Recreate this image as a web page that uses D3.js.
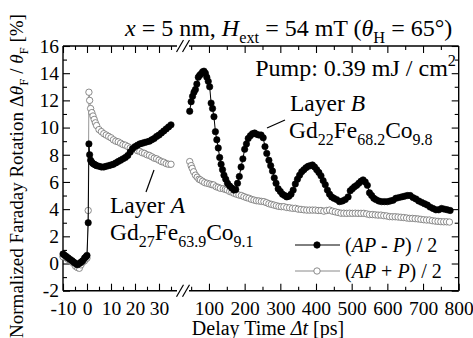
<!DOCTYPE html>
<html><head><meta charset="utf-8">
<script src="https://cdn.jsdelivr.net/npm/d3@7"></script>
<style>
body{margin:0;background:#fff}
svg{display:block}
svg text{font-family:"Liberation Serif","Times New Roman",serif !important;fill:#000}
</style>
</head><body>
<svg id="c" width="473" height="338"></svg>
<script>
// ---------- data ----------
const yTicks = [-2,0,2,4,6,8,10,12,14,16];
const yMinor = [-1,1,3,5,7,9,11,13,15];
const xTicksLeft = [-10,0,10,20,30];
const xMinorLeft = [-5,5,15,25,35];
const xTicksRight = [100,200,300,400,500,600,700,800];
const xMinorRight = [50,150,250,350,450,550,650,750];

const leftTime = [-10,-9.3,-8.5,-7.8,-7,-6.2,-5.5,-4.8,-4,-3.2,-2.5,-1.8,-1,-0.4,0,
  0.5,0.8,1.1,1.5,2,2.5,3,3.5,4,
  5,6,7,8,9,10,11,12,13,14,15,16,17,18,19,20,21,22,23,24,25,26,27,28,29,30,31,32,33,34,35];
const leftAPminusP = [0.7,0.6,0.5,0.4,0.3,0.2,0.1,0.0,-0.1,0.0,0.1,0.2,0.4,0.5,0.6,
  3.0,8.8,8.0,7.6,7.45,7.35,7.3,7.25,7.2,
  7.15,7.1,7.1,7.15,7.2,7.25,7.3,7.4,7.5,7.6,7.7,7.8,7.95,8.2,8.45,8.6,8.7,8.8,8.85,8.9,8.95,9.0,9.1,9.2,9.35,9.45,9.6,9.75,9.9,10.05,10.2];
const leftAPplusP = [0.5,0.6,0.4,0.3,0.2,0.1,0.0,-0.2,-0.3,-0.35,-0.1,0.1,0.2,0.35,0.4,
  3.9,12.6,12.0,11.4,11.1,10.85,10.6,10.35,10.15,
  9.85,9.7,9.55,9.45,9.35,9.25,9.1,9.0,8.95,8.85,8.75,8.7,8.6,8.5,8.45,8.4,8.3,8.25,8.15,8.1,8.0,7.95,7.85,7.75,7.7,7.6,7.5,7.45,7.35,7.3,7.3];

const rightTimeFilled = [46,50,54,58,62,66,70,74,78,82,86,90,94,98,102,106,110,114,118,122,126,130,134,138,142,147,152,158,164,170,175,180,185,190,195,200,205,210,216,222,228,234,240,246,252,257,262,268,273,278,283,288,294,300,306,312,318,324,330,336,342,348,354,360,366,372,378,384,390,396,402,408,414,420,426,432,438,444,450,458,466,474,482,490,496,502,508,514,520,526,532,538,544,550,556,562,568,576,584,592,600,608,616,624,632,640,648,656,664,672,680,688,696,704,712,720,728,736,744,752,760,768,776];
const rightAPminusP = [11.2,11.9,12.3,12.6,12.8,13.2,13.7,13.85,13.95,14.1,14.15,14.0,13.7,13.4,13.0,11.8,11.4,10.8,9.7,9.1,8.5,7.8,7.3,6.9,6.5,6.2,5.9,5.7,5.55,5.4,5.45,5.9,6.4,7.1,7.7,8.4,8.8,9.2,9.4,9.55,9.6,9.5,9.45,9.45,9.25,8.6,8.1,7.6,7.2,6.8,6.3,5.9,5.5,5.3,5.1,5.0,4.9,4.95,5.1,5.4,5.85,6.2,6.5,6.75,6.9,7.05,7.15,7.2,7.25,7.1,6.9,6.7,6.45,6.1,5.8,5.4,5.1,4.9,4.8,4.7,4.55,4.6,4.7,4.9,5.35,5.5,5.65,5.75,5.9,6.05,6.15,6.0,5.75,5.2,5.0,4.8,4.7,4.6,4.55,4.55,4.55,4.6,4.65,4.8,4.85,4.9,4.95,5.0,5.0,4.85,4.75,4.6,4.5,4.4,4.3,4.15,4.05,3.95,3.95,4.05,4.0,3.95,3.9];

const rightTimeOpen = [46,50,53,57,62,67,72,76,82,88,95,102,108,113,120,126,132,140,146,151,158,164,170,177,184,191,198,205,212,219,226,233,240,247,254,261,268,275,282,289,296,303,310,318,326,334,342,350,358,366,374,382,390,398,406,414,422,430,438,446,454,462,470,478,486,494,502,510,518,526,534,542,550,558,566,574,582,590,598,606,614,622,630,638,646,654,662,670,678,686,694,702,710,718,726,734,742,750,758,766,774];
const rightAPplusP = [7.5,7.2,7.0,6.75,6.5,6.35,6.2,6.15,6.05,5.95,5.9,5.85,5.8,5.78,5.65,5.6,5.53,5.5,5.45,5.41,5.3,5.25,5.17,5.1,5.04,5.0,4.92,4.85,4.8,4.72,4.67,4.62,4.6,4.57,4.55,4.48,4.4,4.35,4.3,4.25,4.2,4.18,4.18,4.12,4.1,4.06,4.06,4.0,3.98,3.95,3.93,3.93,3.93,3.93,3.9,3.9,3.85,3.9,3.93,3.85,3.8,3.75,3.7,3.7,3.69,3.7,3.69,3.7,3.69,3.69,3.69,3.65,3.6,3.6,3.58,3.56,3.56,3.52,3.5,3.45,3.44,3.44,3.42,3.4,3.38,3.35,3.32,3.32,3.3,3.28,3.25,3.22,3.2,3.2,3.15,3.12,3.1,3.08,3.07,3.07,3.05];

// ---------- layout ----------
const FONT = '"Liberation Serif","Times New Roman",serif';
const svg = d3.select("#c");
const L = 63, R = 458.7, T = 46, B = 290.7, BRK = 183;
const xL = d3.scaleLinear().domain([-10,40]).range([L,BRK]);
const xR = d3.scaleLinear().domain([30,800]).range([BRK+1,R]);
const y = d3.scaleLinear().domain([-2,16]).range([B,T]);
const tickFont = 19.5;

function styleAxis(g){
  g.attr("font-family",FONT).attr("font-size",tickFont);
  g.select(".domain").remove();
  g.selectAll("line").attr("stroke","#000").attr("stroke-width",1.1);
  g.selectAll("text").style("font-family",FONT).style("font-size",tickFont+"px").attr("fill","#000");
}

// bottom axes
svg.append("g").attr("transform",`translate(0,${B})`)
  .call(d3.axisBottom(xL).tickValues(xTicksLeft).tickSize(-7).tickPadding(10).tickFormat(d=>String(d))).call(styleAxis);
svg.append("g").attr("transform",`translate(0,${B})`)
  .call(d3.axisBottom(xL).tickValues(xMinorLeft).tickSize(-4).tickFormat("")).call(styleAxis);
svg.append("g").attr("transform",`translate(0,${B})`)
  .call(d3.axisBottom(xR).tickValues(xTicksRight).tickSize(-7).tickPadding(10).tickFormat(d=>String(d))).call(styleAxis);
svg.append("g").attr("transform",`translate(0,${B})`)
  .call(d3.axisBottom(xR).tickValues(xMinorRight).tickSize(-4).tickFormat("")).call(styleAxis);
// top axes
svg.append("g").attr("transform",`translate(0,${T})`)
  .call(d3.axisTop(xL).tickValues(xTicksLeft).tickSize(-7).tickFormat("")).call(styleAxis);
svg.append("g").attr("transform",`translate(0,${T})`)
  .call(d3.axisTop(xL).tickValues(xMinorLeft).tickSize(-4).tickFormat("")).call(styleAxis);
svg.append("g").attr("transform",`translate(0,${T})`)
  .call(d3.axisTop(xR).tickValues(xTicksRight.filter(d=>d<800)).tickSize(-7).tickFormat("")).call(styleAxis);
svg.append("g").attr("transform",`translate(0,${T})`)
  .call(d3.axisTop(xR).tickValues(xMinorRight).tickSize(-4).tickFormat("")).call(styleAxis);
// left / right axes
svg.append("g").attr("transform",`translate(${L},0)`)
  .call(d3.axisLeft(y).tickValues(yTicks).tickSize(-7).tickPadding(4).tickFormat(d=>String(d))).call(styleAxis);
svg.append("g").attr("transform",`translate(${L},0)`)
  .call(d3.axisLeft(y).tickValues(yMinor).tickSize(-4).tickFormat("")).call(styleAxis);
svg.append("g").attr("transform",`translate(${R},0)`)
  .call(d3.axisRight(y).tickValues(yTicks).tickSize(-7).tickFormat("")).call(styleAxis);
svg.append("g").attr("transform",`translate(${R},0)`)
  .call(d3.axisRight(y).tickValues(yMinor).tickSize(-4).tickFormat("")).call(styleAxis);

// frame with breaks
const fr = svg.append("g").attr("stroke","#000").attr("stroke-width",1.4).attr("fill","none");
fr.append("line").attr("x1",L).attr("x2",L).attr("y1",T).attr("y2",B);
fr.append("line").attr("x1",R).attr("x2",R).attr("y1",T).attr("y2",B);
[T,B].forEach(yy=>{
  fr.append("line").attr("x1",L).attr("x2",BRK-6).attr("y1",yy).attr("y2",yy);
  fr.append("line").attr("x1",BRK+6).attr("x2",R).attr("y1",yy).attr("y2",yy);
  [-3,3].forEach(o=>{
    fr.append("line").attr("x1",BRK+o-3.5).attr("y1",yy+6).attr("x2",BRK+o+3.5).attr("y2",yy-6).attr("stroke-width",1.2);
  });
});

// ---------- series ----------
const zip = (a,b)=>a.map((t,i)=>[t,b[i]]);
const openL = zip(leftTime,leftAPplusP), fillL = zip(leftTime,leftAPminusP);
const openR = zip(rightTimeOpen,rightAPplusP), fillR = zip(rightTimeFilled,rightAPminusP);
const lineL = d3.line().x(d=>xL(d[0])).y(d=>y(d[1]));
const lineR = d3.line().x(d=>xR(d[0])).y(d=>y(d[1]));
const rad = 3.2;
function drawSeries(data, line, xs, filled){
  const g = svg.append("g");
  g.append("path").attr("d",line(data)).attr("fill","none")
    .attr("stroke", filled? "#000":"#8a8a8a").attr("stroke-width", filled?1:0.9);
  g.selectAll("circle").data(data).join("circle")
    .attr("cx",d=>xs(d[0])).attr("cy",d=>y(d[1])).attr("r",rad)
    .attr("fill", filled? "#000":"#fff")
    .attr("stroke", filled? "#000":"#6e6e6e").attr("stroke-width", filled?0.6:0.8);
}
drawSeries(openL,lineL,xL,false);
drawSeries(openR,lineR,xR,false);
drawSeries(fillL,lineL,xL,true);
drawSeries(fillR,lineR,xR,true);

// ---------- texts ----------
function rich(x, yy, size, parts, anchor, transform){
  const t = svg.append("text").attr("x",x).attr("y",yy)
    .style("font-family",FONT).style("font-size",size+"px")
    .attr("text-anchor",anchor||"start");
  if (transform) t.attr("transform",transform);
  let shift = 0;
  parts.forEach(p=>{
    const ts = t.append("tspan").text(p.t);
    if (p.i) ts.attr("font-style","italic");
    const target = p.sub ? size*0.28 : (p.sup ? -size*0.4 : 0);
    if (target - shift !== 0) ts.attr("dy", target - shift);
    shift = target;
    if (p.sub || p.sup) ts.style("font-size", (size*0.68)+"px");
  });
  return t;
}
rich(125, 36, 24, [{t:"x",i:1},{t:" = 5 nm, "},{t:"H",i:1},{t:"ext",sub:1},{t:" = 54 mT ("},{t:"θ",i:1},{t:"H",sub:1},{t:" = 65°)"}]);
rich(456, 76, 24, [{t:"Pump: 0.39 mJ / cm"},{t:"2",sup:1}], "end");
rich(290, 111, 23.5, [{t:"Layer "},{t:"B",i:1}]);
rich(289, 138, 23.5, [{t:"Gd"},{t:"22",sub:1},{t:"Fe"},{t:"68.2",sub:1},{t:"Co"},{t:"9.8",sub:1}]);
rich(110, 213, 23.5, [{t:"Layer "},{t:"A",i:1}]);
rich(110, 240, 23.5, [{t:"Gd"},{t:"27",sub:1},{t:"Fe"},{t:"63.9",sub:1},{t:"Co"},{t:"9.1",sub:1}]);
svg.append("line").attr("x1",267).attr("y1",128).attr("x2",285).attr("y2",120).attr("stroke","#000").attr("stroke-width",1.2);
svg.append("line").attr("x1",146).attr("y1",192).attr("x2",154).attr("y2",170).attr("stroke","#000").attr("stroke-width",1.2);

// axis titles
rich(268, 335, 20, [{t:"Delay Time "},{t:"Δt",i:1},{t:" [ps]"}], "middle");
rich(0, 0, 19, [{t:"Normalized Faraday Rotation Δ"},{t:"θ",i:1},{t:"F",sub:1},{t:" / "},{t:"θ",i:1},{t:"F",sub:1},{t:" [%]"}], "middle", "translate(23,176) rotate(-90)");

// legend
const legend = [{y:245, filled:true, label:[{t:"("},{t:"AP",i:1},{t:" - "},{t:"P",i:1},{t:") / 2"}]},
                {y:271, filled:false, label:[{t:"("},{t:"AP",i:1},{t:" + "},{t:"P",i:1},{t:") / 2"}]}];
legend.forEach(e=>{
  svg.append("line").attr("x1",295).attr("x2",340).attr("y1",e.y).attr("y2",e.y)
    .attr("stroke", e.filled?"#000":"#8a8a8a").attr("stroke-width",1);
  svg.append("circle").attr("cx",317).attr("cy",e.y).attr("r",rad)
    .attr("fill", e.filled?"#000":"#fff").attr("stroke", e.filled?"#000":"#6e6e6e").attr("stroke-width",0.8);
  rich(345, e.y+7, 20, e.label);
});
</script>
</body></html>
